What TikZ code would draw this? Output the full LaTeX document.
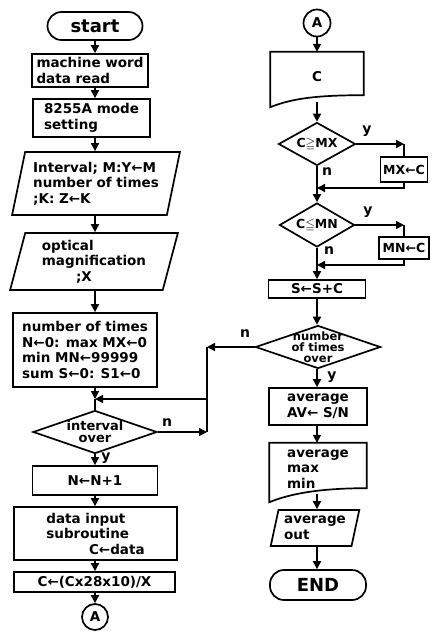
\documentclass[tikz,border=0pt]{standalone}
\usepackage{fontspec}
\setmainfont{DejaVu Sans}
\usepackage{amssymb}
\usepackage{tikz}
\usetikzlibrary{arrows.meta, positioning, calc, shapes.geometric}

% outline of a document box: straight top, wavy bottom
\newcommand{\docline}[3]{%
  \draw[line] (#1.north west) -- (#1.north east)
    -- ($(#1.south east)+(0,-#2)$)
    .. controls +(-45,0) and +(22,-9) .. ($(#1.south west)+(0,#3)$) -- cycle;}

\begin{document}
\begin{tikzpicture}[x=1pt, y=-1pt,
      base/.style={draw, line width=1.7pt, align=center,
                   font=\bfseries\fontsize{13.5}{15.5}\selectfont, inner xsep=3pt, inner ysep=1pt},
      proc/.style={base, rectangle},
      io/.style={base, trapezium, trapezium left angle=75, trapezium right angle=105,
                 trapezium stretches=true},
      term/.style={base, rectangle, rounded corners=14pt, font=\bfseries\fontsize{18}{20}\selectfont},
      conn/.style={base, circle, inner sep=0pt},
      dec/.style={base, diamond, inner sep=0pt},
      dtext/.style={align=center, font=\bfseries\fontsize{13}{12}\selectfont, inner sep=0pt},
      docbox/.style={rectangle, align=left, font=\bfseries\fontsize{13.5}{15.5}\selectfont},
      lbl/.style={font=\bfseries\fontsize{14}{15}\selectfont, inner sep=0pt},
      line/.style={line width=1.7pt},
      arr/.style={line, -{Triangle[length=8pt, width=8pt]}},
      ]
    \useasboundingbox (0,0) rectangle (432,635);
    \coordinate (lc) at (95,0);
    \coordinate (rc) at (317,0);

    % left column
    \node[term, minimum width=95, minimum height=28] (start) at (95,26) {start};
    \node[proc, minimum width=116, minimum height=33, align=left] (mwd) at (90,70.5) {machine word\\data read};
    \node[proc, minimum width=117, minimum height=38, align=left] (mode) at (91.5,118) {8255A mode\\setting};
    \node[io, minimum width=168, minimum height=63, align=left] (p1) at (96,183.5) {Interval; M:Y←M\\number of times\\;K: Z←K};
    \node[io, minimum width=168, minimum height=57, align=left] (p2) at (94,261.5) {optical\\magnification\\\hspace*{12mm};X};
    \node[proc, minimum width=144, minimum height=74, align=left] (init) at (85,350) {number of times\\N←0: max MX←0\\min MN←99999\\sum S←0: S1←0};
    \coordinate (m1) at (95,399);
    \node[dec, minimum width=124, minimum height=43] (dint) at (95,432) {};
    \node[dtext] (tint) at (dint) {interval\\over};
    \node[proc, minimum width=125, minimum height=29] (nn) at (95,480.5) {N←N+1};
    \node[proc, minimum width=163, minimum height=53, align=left] (sub) at (95.5,533.5) {data input\\subroutine\\\hspace*{15mm}C←data};
    \node[proc, minimum width=161, minimum height=20] (cc) at (94.5,582) {C←(Cx28x10)/X};
    \node[conn, minimum size=26] (a1) at (95,617) {A};

    % right column
    \node[conn, minimum size=27] (a2) at (317,23) {A};
    \node[docbox, minimum width=93, minimum height=50] (dc) at (317,77) {C};
    \docline{dc}{7}{5}
    \node[dec, minimum width=77, minimum height=43] (dmx) at (317,144) {};
    \node[dtext, font=\bfseries\fontsize{12.5}{12}\selectfont] (tmx) at (dmx) {C\(\geqq\)MX};
    \node[proc, minimum width=47, minimum height=25, inner xsep=1pt,
          font=\bfseries\fontsize{12.5}{14}\selectfont] (mxc) at (404,169.5) {MX←C};
    \coordinate (k1) at (404,144);
    \coordinate (m2) at (317,188);
    \node[dec, minimum width=75, minimum height=44] (dmn) at (317,225) {};
    \node[dtext, font=\bfseries\fontsize{12.5}{12}\selectfont] (tmn) at (dmn) {C\(\leqq\)MN};
    \node[proc, minimum width=50, minimum height=22, inner xsep=1pt,
          font=\bfseries\fontsize{12.5}{14}\selectfont] (mnc) at (404,248) {MN←C};
    \coordinate (k2) at (404,225);
    \coordinate (m3) at (317,265);
    \node[proc, minimum width=97, minimum height=18] (ssc) at (317,289) {S←S+C};
    \node[dec, minimum width=125, minimum height=43] (dnt) at (318,347) {};
    \node[dtext, font=\bfseries\fontsize{11.5}{11}\selectfont] (tnt) at (dnt) {number\\of times\\over};
    \node[proc, minimum width=98, minimum height=37] (avg) at (318,406.5) {average\\AV← S/N};
    \node[docbox, minimum width=97, minimum height=52] (dam) at (318,469) {average\\max\\min};
    \docline{dam}{7}{7}
    \node[io, minimum width=89, minimum height=36, inner xsep=1pt, align=left] (out) at (315,528) {average\\out};
    \node[term, minimum width=96, minimum height=30] (fin) at (318,585) {END};

    % loop joints between the columns
    \coordinate (jr) at (207,347);
    \coordinate (jm) at (207,399);
    \coordinate (jn) at (207,432);

    % left connectors
    \draw[arr] (start) -- (start |- mwd.north);
    \draw[arr] (mwd.south -| lc) -- (mode.north -| lc);
    \draw[arr] (mode.south -| lc) -- (p1.north -| lc);
    \draw[arr] (p1.south -| lc) -- (p2.north -| lc);
    \draw[arr] (p2.south -| lc) -- (init.north -| lc);
    \draw[arr] (init.south -| lc) -- (m1);
    \draw[line] (m1) -- (dint);
    \draw[arr] (dint) -- (nn);
    \draw[arr] (nn) -- (sub.north -| lc);
    \draw[arr] (sub.south -| lc) -- (cc.north -| lc);
    \draw[arr] (cc.south -| lc) -- (a1);
    \draw[arr] (dint.east) -- (jn);
    \draw[line] (jn) -- (jr);
    \draw[arr] (jm) -- (m1);

    % right connectors
    \draw[arr] (a2) -- (dc);
    \draw[arr] (dc.south -| rc) -- (dmx);
    \draw[arr] (dmx.east) -- (k1);
    \draw[line] (k1) -- (mxc);
    \draw[arr] (mxc.south) |- (m2);
    \draw[line] (dmx) -- (m2);
    \draw[arr] (m2) -- (dmn);
    \draw[arr] (dmn.east) -- (k2);
    \draw[line] (k2) -- (mnc);
    \draw[arr] (mnc.south) |- (m3);
    \draw[line] (dmn) -- (m3);
    \draw[arr] (m3) -- (ssc);
    \draw[arr] (ssc.south -| rc) -- (dnt.north -| rc);
    \draw[arr] (dnt.west) -- (jr);
    \draw[arr] (dnt.south -| rc) -- (avg.north -| rc);
    \draw[arr] (avg.south -| rc) -- (dam.north -| rc);
    \draw[arr] ($(dam.south -| rc)+(0,-1)$) -- (out.north -| rc);
    \draw[arr] (out.south -| rc) -- (fin.north -| rc);

    % branch labels
    \node[lbl] (ln1) at (167,423) {n};
    \node[lbl] (ly1) at (106,458) {y};
    \node[lbl] (ly2) at (367,131) {y};
    \node[lbl] (ln2) at (327,172) {n};
    \node[lbl] (ly3) at (368,212) {y};
    \node[lbl] (ln3) at (329,251) {n};
    \node[lbl] (ln4) at (245,334) {n};
    \node[lbl] (ly4) at (332,377) {y};
  \end{tikzpicture}
\end{document}
